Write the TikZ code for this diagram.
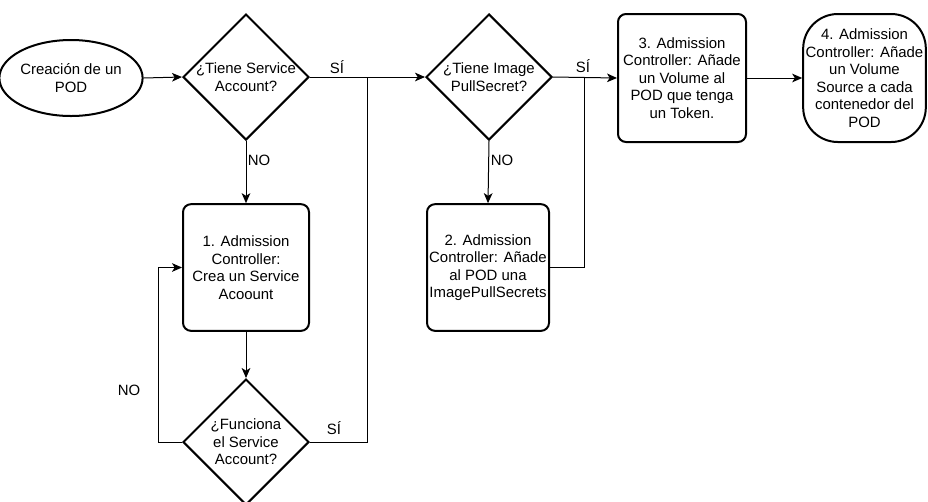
\documentclass[tikz,border=0pt]{standalone}
\usepackage{fontspec}
\setmainfont{Liberation Sans}
\usetikzlibrary{shapes.geometric,arrows.meta}
\begin{document}
\begin{tikzpicture}[x=0.75pt,y=-0.75pt,
  every node/.style={font=\fontsize{11.2}{13.1}\selectfont},
  box/.style={draw,line width=1.5pt,rounded corners=6pt,align=center,inner sep=0pt},
  dia/.style={draw,diamond,line width=1.5pt,inner sep=0pt,minimum width=94.5pt,minimum height=94.5pt},
  conn/.style={line width=0.75pt},
  arr/.style={conn,-{Stealth[length=7.5pt,width=6.5pt,inset=2pt]}},
  lbl/.style={inner sep=1pt}
]
\useasboundingbox (0,0) rectangle (928,501);
% nodes
\node[draw,ellipse,line width=1.5pt,minimum width=96pt,minimum height=57pt,inner sep=0pt,align=center] (start) at (71,78) {Creación de un\\POD};
\node[dia,label={[align=center]center:¿Tiene Service\\Account?}] (d1) at (246,77) {};
\node[box,minimum width=94.5pt,minimum height=95pt] (b1) at (246,267.5) {1. Admission\\Controller:\\Crea un Service\\Acoount};
\node[dia,label={[align=center]center:¿Funciona\\el Service\\Account?}] (d2) at (246,442) {};
\node[dia,label={[align=center]center:¿Tiene Image\\PullSecret?}] (d3) at (489,77) {};
\node[box,minimum width=91.5pt,minimum height=95pt] (b2) at (488,267.5) {2. Admission\\Controller: Añade\\al POD una\\ImagePullSecrets};
\node[box,minimum width=96pt,minimum height=96pt] (b3) at (682,78) {3. Admission\\Controller: Añade\\un Volume al\\POD que tenga\\un Token.};
\node[box,rounded corners=26pt,minimum width=92pt,minimum height=96pt] (b4) at (864.5,78) {4. Admission\\Controller: Añade\\un Volume\\Source a cada\\contenedor del\\POD};
\coordinate (j1) at (367,78);
\coordinate (j2) at (584,78);
\coordinate (loop) at (158,442);
% connectors
\draw[arr] (start.east) -- (d1.west);
\draw[arr] (d1.east) -- (d3.west);
\draw[arr] (d1.south) -- (b1.north);
\draw[arr] (b1.south) -- (d2.north);
\draw[arr] (d2.west) -- (loop) |- (b1.west);
\draw[conn] (d2.east) -| (j1);
\draw[arr] (d3.south) -- (b2.north);
\draw[conn] (b2.east) -| (j2);
\draw[arr] (d3.east) -- (b3.west);
\draw[arr] (b3.east) -- (b4.west);
% labels
\node[lbl] (s1) at (337,67) {SÍ};
\node[lbl] (n1) at (259,160) {NO};
\node[lbl] (n3) at (502,160) {NO};
\node[lbl] (s2) at (583,66) {SÍ};
\node[lbl] (n2) at (129,390) {NO};
\node[lbl] (s3) at (334,428) {SÍ};
\end{tikzpicture}
\end{document}
